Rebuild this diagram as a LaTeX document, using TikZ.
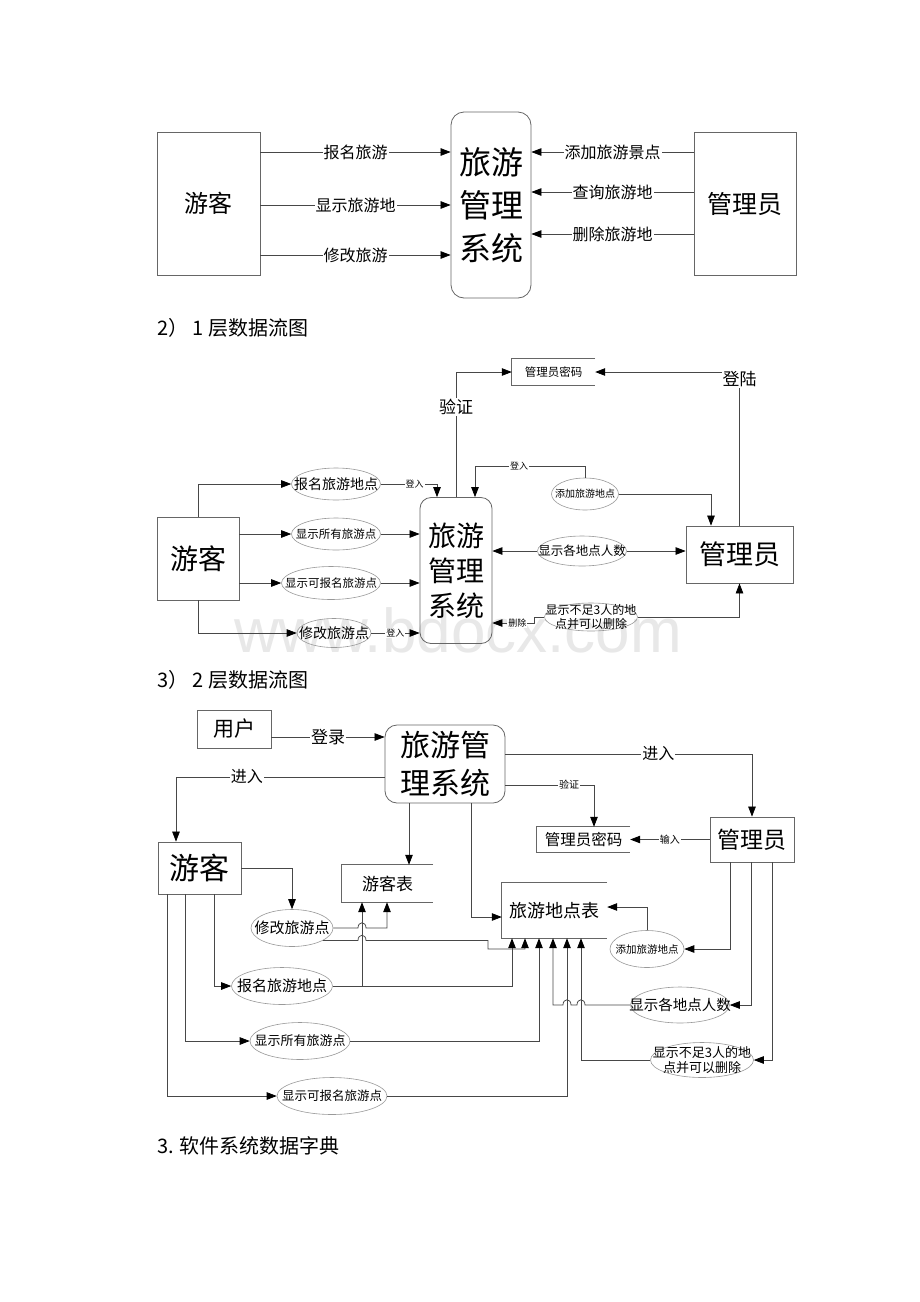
\documentclass[tikz,border=0pt]{standalone}
\usepackage{fontspec}
\setmainfont{Noto Sans CJK SC}
\newfontfamily\wmfont{Liberation Sans}
\usetikzlibrary{arrows.meta,shapes.geometric}
\newcommand{\fz}[1]{\fontsize{#1}{#1}\selectfont}
\begin{document}
\begin{tikzpicture}[x=1pt,y=-1pt,
  ln/.style={draw=black!72,line width=0.75pt},
  arr/.style={ln,-{Triangle[length=10pt,width=7.5pt,color=black]}},
  box/.style={draw=black!60,line width=0.8pt,inner sep=0pt},
  ell/.style={draw=black!40,ellipse,line width=0.6pt,inner sep=0pt},
  lbl/.style={fill=white,inner sep=1pt},
  store/.style={inner sep=0pt},
  stline/.style={draw=black!60,line width=0.8pt},
  head/.style={anchor=west,inner sep=0pt,font=\fz{20}},
]
\fill[white] (0,0) rectangle (920,1302);
\useasboundingbox (0,0) rectangle (920,1302);
\node[font=\wmfont\fz{62},text=black!9] (wm) at (458,630) {www.bdocx.com};

% ================= Diagram 1 =================
\node[box,minimum width=103pt,minimum height=143pt,font=\fz{24}] (u1) at (208.5,203.5) {游客};
\node[box,rounded corners=13pt,minimum width=80pt,minimum height=186pt,align=center,font=\fontsize{32}{43}\selectfont] (s1) at (491,205) {旅游\\管理\\系统};
\node[box,minimum width=102pt,minimum height=143pt,font=\fz{25}] (a1) at (745,203.5) {管理员};
\coordinate (r1) at (0,152);
\coordinate (r2) at (0,205);
\coordinate (r3) at (0,255);
\coordinate (r4) at (0,152);
\coordinate (r5) at (0,192);
\coordinate (r6) at (0,234);
\draw[arr] (u1.east |- r1) -- node[lbl,font=\fz{16}]{报名旅游} (s1.west |- r1);
\draw[arr] (u1.east |- r2) -- node[lbl,font=\fz{16}]{显示旅游地} (s1.west |- r2);
\draw[arr] (u1.east |- r3) -- node[lbl,font=\fz{16}]{修改旅游} (s1.west |- r3);
\draw[arr] (a1.west |- r4) -- node[lbl,font=\fz{16}]{添加旅游景点} (s1.east |- r4);
\draw[arr] (a1.west |- r5) -- node[lbl,font=\fz{16}]{查询旅游地} (s1.east |- r5);
\draw[arr] (a1.west |- r6) -- node[lbl,font=\fz{16}]{删除旅游地} (s1.east |- r6);

\node[head] (h1) at (157,328) {2）\ 1 层数据流图};

% ================= Diagram 2 =================
\node[box,minimum width=82pt,minimum height=83pt,font=\fz{28}] (u2) at (198,558.5) {游客};
\node[box,rounded corners=11pt,minimum width=72pt,minimum height=146pt,align=center,font=\fontsize{28}{35}\selectfont] (s2) at (456,570.5) {旅游\\管理\\系统};
\node[box,minimum width=107pt,minimum height=57pt,font=\fz{27}] (a2) at (739.5,554.5) {管理员};
\node[store,minimum width=83pt,minimum height=26pt,font=\fz{11.5}] (pw2) at (553.5,372) {管理员密码};
\draw[stline] (pw2.north east) -- (pw2.north west) -- (pw2.south west) -- (pw2.south east);

\draw[arr] (s2.north) |- node[lbl,pos=0.36,font=\fz{17}]{验证} (pw2.west);
\draw[arr] (a2.north) |- (pw2.east);
\node[lbl,font=\fz{17}] (dl) at (739.5,379) {登陆};

\node[ell,minimum width=89pt,minimum height=32pt,label={[font=\fz{14}]center:报名旅游地点}] (e21) at (336,484) {};
\node[ell,minimum width=89pt,minimum height=32pt,label={[font=\fz{11.5}]center:显示所有旅游点}] (e22) at (336,534) {};
\node[ell,minimum width=99pt,minimum height=33pt,label={[font=\fz{11.5}]center:显示可报名旅游点}] (e23) at (331,583) {};
\node[ell,minimum width=74pt,minimum height=29pt,label={[font=\fz{14}]center:修改旅游点}] (e24) at (334,633) {};
\node[ell,minimum width=67pt,minimum height=32pt,label={[font=\fz{10}]center:添加旅游地点}] (e25) at (585,494) {};
\node[ell,minimum width=89pt,minimum height=30pt,label={[font=\fz{12.5}]center:显示各地点人数}] (e26) at (582,551) {};
\node[ell,minimum width=93pt,minimum height=28pt,label={[font=\fontsize{12}{14}\selectfont,align=center]center:显示不足3人的地\\点并可以删除}] (e27) at (591,617) {};

\draw[arr] (u2.north) |- (e21.west);
\draw[arr] (u2.east |- e22) -- (e22.west);
\draw[arr] (u2.east |- e23) -- (e23.west);
\draw[arr] (u2.south) |- (e24.west);

\coordinate (k1) at (437,0);
\draw[arr] (e21.east) -| node[lbl,pos=0.3,font=\fz{9}]{登入} (k1 |- s2.north);
\draw[arr] (e22.east) -- (s2.west |- e22);
\draw[arr] (e23.east) -- (s2.west |- e23);
\draw[arr] (e24.east) -- node[lbl,font=\fz{9}]{登入} (s2.west |- e24);

\coordinate (k2) at (475,466);
\draw[arr] (e25.north) |- node[lbl,pos=0.8,font=\fz{9}]{登入} (k2) -- (k2 |- s2.north);
\coordinate (k3) at (711,0);
\draw[arr] (e25.east) -| (k3 |- a2.north);
\draw[arr] (e26.west) -- (s2.east |- e26);
\draw[arr] (e26.east) -- (a2.west |- e26);
\draw[arr] (e27.east) -| (a2.south);
\coordinate (k4) at (0,623);
\draw[arr] (e27.west) -- ++(-10,0) |- node[lbl,pos=0.7,font=\fz{9}]{删除} (s2.east |- k4);

\node[head] (h2) at (157,680) {3）\ 2 层数据流图};

% ================= Diagram 3 =================
\node[box,minimum width=74pt,minimum height=38pt,font=\fz{21}] (u3) at (234,729) {用户};
\node[box,rounded corners=12pt,minimum width=120pt,minimum height=78pt,align=center,font=\fontsize{30}{38}\selectfont] (s3) at (445,764) {旅游管\\理系统};
\node[box,minimum width=84pt,minimum height=45pt,font=\fz{23}] (a3) at (752,839.5) {管理员};
\node[box,minimum width=83pt,minimum height=52pt,font=\fz{30}] (u4) at (199.5,868) {游客};

\node[store,minimum width=93pt,minimum height=25pt,font=\fz{15.5}] (pw3) at (583.5,839.5) {管理员密码};
\draw[stline] (pw3.north east) -- (pw3.north west) -- (pw3.south west) -- (pw3.south east);
\node[store,minimum width=91pt,minimum height=37pt,font=\fz{17}] (gt) at (387.5,883.5) {游客表};
\draw[stline] (gt.north east) -- (gt.north west) -- (gt.south west) -- (gt.south east);
\node[store,minimum width=105pt,minimum height=55pt,font=\fz{18}] (lt) at (554.5,910.5) {旅游地点表};
\draw[stline] (lt.north east) -- (lt.north west) -- (lt.south west) -- (lt.south east);

\coordinate (k5) at (0,737);
\draw[arr] (u3.east |- k5) -- node[lbl,font=\fz{17}]{登录} (s3.west |- k5);
\coordinate (k6) at (0,754);
\draw[arr] (s3.east |- k6) -| node[lbl,pos=0.31,font=\fz{16}]{进入} (a3.north);
\coordinate (k8) at (176,777);
\draw[arr] (s3.west |- k8) -| node[lbl,pos=0.33,font=\fz{16}]{进入} (k8 |- u4.north);
\coordinate (k10) at (594,785);
\draw[arr] (s3.east |- k10) -| node[lbl,pos=0.36,font=\fz{10}]{验证} (k10 |- pw3.north);
\draw[arr] (a3.west) -- node[lbl,font=\fz{10}]{输入} (pw3.east);
\coordinate (k12) at (409,0);
\draw[arr] (s3.south -| k12) -- (gt.north -| k12);
\coordinate (k13) at (471,917);
\draw[arr] (s3.south -| k13) |- (lt.west |- k13);

\node[ell,minimum width=82pt,minimum height=37pt,label={[font=\fz{15}]center:修改旅游点}] (e31) at (292,928) {};
\node[ell,minimum width=101pt,minimum height=37pt,label={[font=\fz{15}]center:报名旅游地点}] (e32) at (282,986) {};
\node[ell,minimum width=100pt,minimum height=37pt,label={[font=\fz{13}]center:显示所有旅游点}] (e33) at (300,1041) {};
\node[ell,minimum width=110pt,minimum height=37pt,label={[font=\fz{12.5}]center:显示可报名旅游点}] (e34) at (332,1096) {};
\node[ell,minimum width=74pt,minimum height=37pt,label={[font=\fz{10.5}]center:添加旅游地点}] (e35) at (647,949) {};
\node[ell,minimum width=99pt,minimum height=36pt,label={[font=\fz{14.5}]center:显示各地点人数}] (e36) at (680,1005) {};
\node[ell,minimum width=103pt,minimum height=35pt,label={[font=\fontsize{13}{15}\selectfont,align=center]center:显示不足3人的地\\点并可以删除}] (e37) at (702,1060) {};

% tourist -> ellipses
\draw[arr] (u4.east) -| (e31.north);
\coordinate (k15) at (214,0);
\coordinate (k16) at (185,0);
\coordinate (k17) at (167,0);
\draw[arr] (u4.south -| k15) |- (e32.west);
\draw[arr] (u4.south -| k16) |- (e33.west);
\draw[arr] (u4.south -| k17) |- (e34.west);

% ellipses -> tables
\coordinate (k18) at (512,0);
\coordinate (k21) at (525,0);
\coordinate (k22) at (539,0);
\coordinate (k25) at (553,0);
\coordinate (k23) at (567,0);
\coordinate (k24) at (581,0);
\coordinate (j1) at (362,986);
\coordinate (k19) at (387,0);
\coordinate (k20) at (488,949);

\draw[arr] (e32.east) -| (k18 |- lt.south);
\draw[arr] (j1) -- (j1 |- gt.south);
\draw[arr] (e31.east) -- ([xshift=-4pt]j1 |- e31.east) .. controls +(0,-7) and +(0,-7) .. ([xshift=4pt]j1 |- e31.east) -| (k19 |- gt.south);
\draw[arr] (e31.-22) -- ([xshift=-4pt]j1 |- e31.-22) .. controls +(0,-7) and +(0,-7) .. ([xshift=4pt]j1 |- e31.-22) -| (k20) -| (k21 |- lt.south);
\draw[arr] (e33.east) -| (k22 |- lt.south);
\draw[arr] (e34.east) -| (k23 |- lt.south);
\draw[arr] (e37.west) -| (k24 |- lt.south);
\draw[arr] (e36.west) -- ([xshift=4pt]k24 |- e36.west) .. controls +(0,-7) and +(0,-7) .. ([xshift=-4pt]k24 |- e36.west) -- ([xshift=4pt]k23 |- e36.west) .. controls +(0,-7) and +(0,-7) .. ([xshift=-4pt]k23 |- e36.west) -| (k25 |- lt.south);

% admin -> ellipses
\coordinate (k26) at (730,0);
\coordinate (k27) at (751,0);
\coordinate (k28) at (772,0);
\draw[arr] (a3.south -| k26) |- (e35.east);
\draw[arr] (a3.south -| k27) |- (e36.east);
\draw[arr] (a3.south -| k28) |- (e37.east);
\coordinate (k29) at (0,907);
\draw[arr] (e35.north) |- (lt.east |- k29);

\node[head] (h3) at (157,1146) {3. 软件系统数据字典};
\end{tikzpicture}
\end{document}
